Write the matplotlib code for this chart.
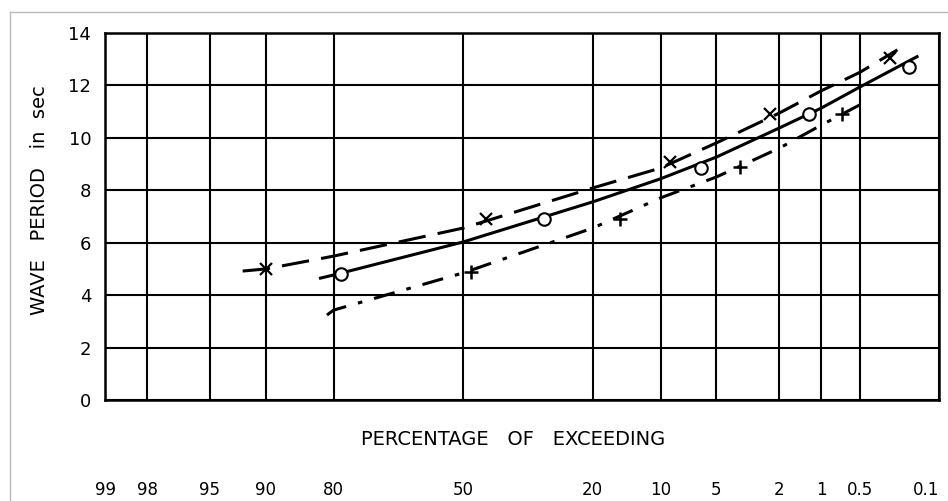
from statistics import NormalDist
import numpy as np
import matplotlib.pyplot as plt
from matplotlib.lines import Line2D

# probability paper: percentage of exceeding
pct_ticks = [99, 98, 95, 90, 80, 50, 20, 10, 5, 2, 1, 0.5, 0.1]
pct_labels = ["99", "98", "95", "90", "80", "50", "20", "10", "5", "2", "1", "0.5", "0.1"]
period_ticks = [0, 2, 4, 6, 8, 10, 12, 14]

# fitted curves (percent exceeding, period in sec)
dash_pct = [92.4, 90, 80, 50, 20, 10, 5, 2, 1, 0.5, 0.24]
dash_T = [4.92, 5.0, 5.49, 6.56, 8.09, 8.85, 9.81, 10.95, 11.8, 12.5, 13.36]
solid_pct = [82.3, 80, 50, 20, 10, 5, 2, 1, 0.5, 0.16]
solid_T = [4.65, 4.77, 6.03, 7.56, 8.44, 9.27, 10.38, 11.14, 11.94, 13.1]
dashdot_pct = [81.2, 80, 50, 20, 10, 5, 2, 1, 0.5]
dashdot_T = [3.24, 3.43, 4.85, 6.56, 7.71, 8.51, 9.61, 10.49, 11.26]

# observed points
cross_pct = [90, 44, 9.0, 2.3, 0.28]
cross_T = [5.0, 6.9, 9.08, 10.9, 13.05]
circle_pct = [78.6, 30, 6.1, 1.24, 0.19]
circle_T = [4.82, 6.9, 8.85, 10.9, 12.72]
plus_pct = [48, 15.5, 3.6, 0.7]
plus_T = [4.9, 6.9, 8.9, 10.9]


def z(p):
    return [NormalDist().inv_cdf(1 - v / 100.0) for v in p]


fig = plt.figure(figsize=(9.48, 5.01), dpi=100)
ax = fig.add_axes([0.1108, 0.2016, 0.8797, 0.7324])

ax.set_xlim(z([99])[0], z([0.1])[0])
ax.set_ylim(0, 14)
ax.set_xticks(z(pct_ticks))
ax.set_xticklabels(pct_labels)
ax.set_yticks(period_ticks)
ax.grid(True, color="black", linewidth=1.5)
for s in ax.spines.values():
    s.set_linewidth(1.8)
ax.tick_params(axis="x", length=0, pad=58, labelsize=12)
ax.tick_params(axis="y", length=0, pad=10, labelsize=13)
# last label would run off the right edge
ax.get_xticklabels()[-1].set_ha("right")

lw = 2.2
ax.plot(z(dash_pct), dash_T, color="black", lw=lw, dashes=(9, 4))
ax.plot(z(solid_pct), solid_T, color="black", lw=lw)
ax.plot(z(dashdot_pct), dashdot_T, color="black", lw=lw, dashes=(7, 4, 1.5, 4))

ax.plot(z(cross_pct), cross_T, "x", color="black", ms=8, mew=1.6, linestyle="none")
ax.plot(z(circle_pct), circle_T, "o", mfc="white", mec="black", ms=9, mew=1.5, linestyle="none")
ax.plot(z(plus_pct), plus_T, "+", color="black", ms=10, mew=1.8, linestyle="none")

ax.set_xlabel("PERCENTAGE   OF   EXCEEDING", fontsize=14)
ax.xaxis.label.set_va("center")
ax.xaxis.set_label_coords(0.489, -0.109)
ax.set_ylabel("WAVE   PERIOD   in  sec", fontsize=14)
ax.yaxis.label.set_va("center")
ax.yaxis.set_label_coords(-0.078, 0.545)

# scan frame
fig.add_artist(Line2D([10 / 948, 1], [1 - 12 / 501, 1 - 12 / 501], color="#bbbbbb", lw=1))
fig.add_artist(Line2D([10 / 948, 10 / 948], [0, 1 - 12 / 501], color="#bbbbbb", lw=1))

fig.savefig("out.png", dpi=100)
